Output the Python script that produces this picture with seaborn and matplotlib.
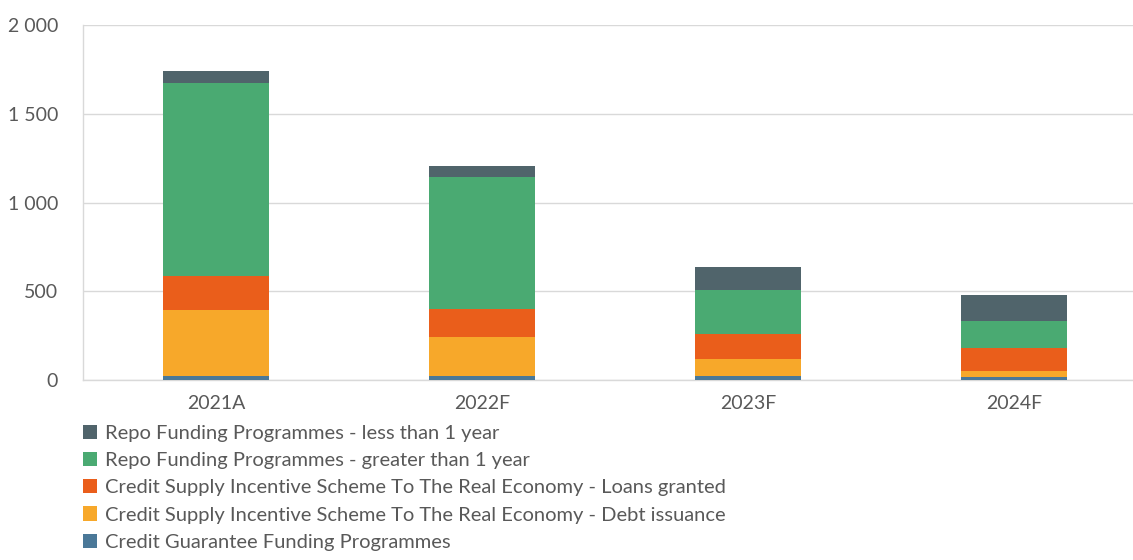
import matplotlib
matplotlib.use("Agg")
import matplotlib.pyplot as plt
import matplotlib.ticker as mticker
import numpy as np
import pandas as pd
import seaborn as sns

years = ["2021A", "2022F", "2023F", "2024F"]
credit_guarantee = [20, 20, 22, 15]
csis_debt = [375, 222, 94, 37]
csis_loans = [190, 158, 141, 130]
repo_long = [1090, 744, 248, 150]
repo_short = [68, 62, 130, 147]

labels = [
    "Credit Guarantee Funding Programmes",
    "Credit Supply Incentive Scheme To The Real Economy - Debt issuance",
    "Credit Supply Incentive Scheme To The Real Economy - Loans granted",
    "Repo Funding Programmes - greater than 1 year",
    "Repo Funding Programmes - less than 1 year",
]
colors = ["#4A7898", "#F7A82A", "#EA5E1B", "#4AAA72", "#50646B"]

sns.set_theme(style="white")
plt.rcParams["font.family"] = ["Lato", "DejaVu Sans"]

series = [credit_guarantee, csis_debt, csis_loans, repo_long, repo_short]
cum = np.cumsum(np.array(series), axis=0)

fig = plt.figure(figsize=(11.33, 5.6), dpi=100)
ax = fig.add_axes([83 / 1133, 1 - 380 / 560, (1147 - 83) / 1133, 355 / 560])

# draw from the full stack down so lower segments cover upper totals
for i in range(len(series) - 1, -1, -1):
    df = pd.DataFrame({"year": years, "value": cum[i]})
    sns.barplot(data=df, x="year", y="value", color=colors[i], saturation=1,
                width=0.4, ax=ax, label=labels[i], edgecolor="none", zorder=3)

ax.set_xlim(-0.5, 3.5)
ax.set_ylim(0, 2000)
ax.set_yticks([0, 500, 1000, 1500, 2000])
ax.yaxis.set_major_formatter(mticker.FuncFormatter(lambda v, p: f"{int(v):,}".replace(",", " ")))
ax.grid(axis="y", color="#D9D9D9", lw=1, zorder=0)
ax.set_xlabel("")
ax.set_ylabel("")
for s in ["top", "right"]:
    ax.spines[s].set_visible(False)
for s in ["left", "bottom"]:
    ax.spines[s].set_color("#D9D9D9")
    ax.spines[s].set_linewidth(1)
ax.tick_params(axis="y", length=5, color="#D9D9D9", labelsize=14, labelcolor="#595959", pad=13)
ax.tick_params(axis="x", length=0, labelsize=14, labelcolor="#595959", pad=11)
ax.set_xticks([0.5, 1.5, 2.5], minor=True)
ax.tick_params(axis="x", which="minor", length=6, color="#D9D9D9", direction="out")

handles, labs = ax.get_legend_handles_labels()
ax.legend(handles, labs, loc="upper left", bbox_to_anchor=(83 / 1133, 1 - 425 / 560),
          bbox_transform=fig.transFigure, frameon=False, fontsize=14.5,
          labelcolor="#595959", handlelength=0.7, handleheight=0.7,
          handletextpad=0.4, labelspacing=0.5, borderaxespad=0, borderpad=0)

fig.savefig("out.png", dpi=100)
